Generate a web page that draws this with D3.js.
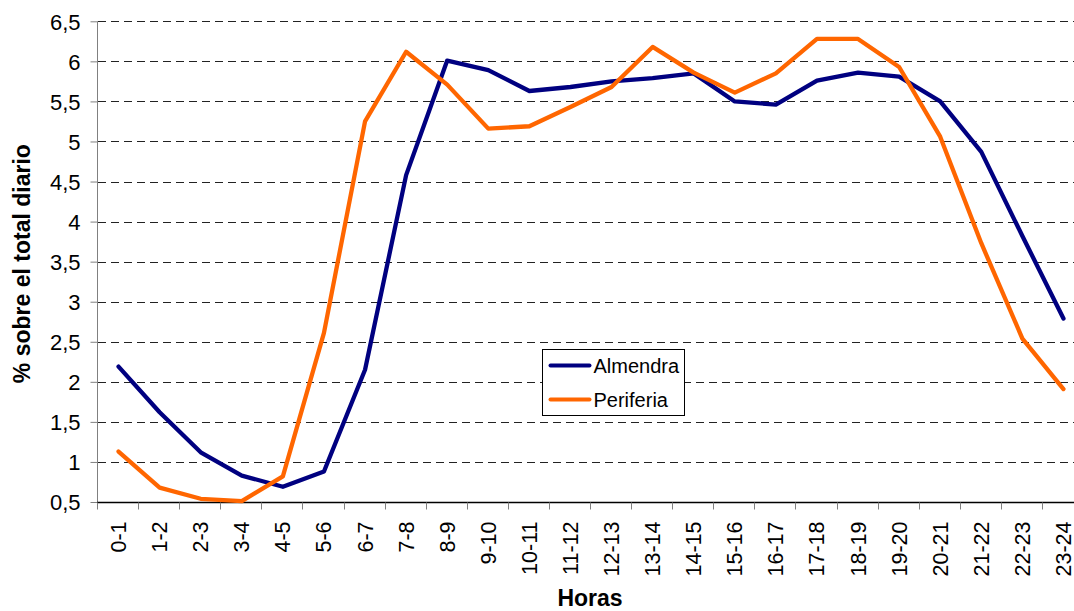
<!DOCTYPE html>
<html>
<head>
<meta charset="utf-8">
<script src="https://cdn.jsdelivr.net/npm/d3@7"></script>
<style>
  body { margin: 0; background: #fff; }
  text { font-family: "Liberation Sans", Arial, sans-serif; }
</style>
</head>
<body>
<div id="board"></div>
<script>
// hour bands on the x axis
var horas = ['0-1','1-2','2-3','3-4','4-5','5-6','6-7','7-8','8-9','9-10','10-11','11-12',
             '12-13','13-14','14-15','15-16','16-17','17-18','18-19','19-20','20-21','21-22','22-23','23-24'];

var almendra = [2.19,1.62,1.12,0.83,0.69,0.88,2.15,4.58,6.01,5.89,5.63,5.68,
                5.75,5.79,5.85,5.50,5.46,5.76,5.86,5.81,5.50,4.87,3.82,2.79];

var periferia = [1.13,0.68,0.54,0.51,0.82,2.61,5.25,6.12,5.71,5.16,5.19,5.43,
                 5.68,6.18,5.86,5.61,5.85,6.28,6.28,5.93,5.06,3.73,2.54,1.91];

var yTicks = [0.5,1,1.5,2,2.5,3,3.5,4,4.5,5,5.5,6,6.5];

var series = [
  {name:'Almendra', values:almendra, color:'#000080'},
  {name:'Periferia', values:periferia, color:'#FF6600'}
];

var W = 1074, H = 611;
var pLeft = 98, pRight = 1084, pTop = 21.3, pBottom = 502;

var svg = d3.select('#board').append('svg')
    .attr('width', W).attr('height', H);

var x = d3.scaleBand().domain(horas).range([pLeft, pRight]);
var y = d3.scaleLinear().domain([0.5, 6.5]).range([pBottom, pTop]);

var fmt = function(d){ return String(d).replace('.', ','); };

// dashed grid
svg.append('g').selectAll('line')
    .data(yTicks.slice(1))
    .enter().append('line')
    .attr('x1', pLeft).attr('x2', pRight)
    .attr('y1', function(d){ return Math.round(y(d)) + 0.5; })
    .attr('y2', function(d){ return Math.round(y(d)) + 0.5; })
    .style('stroke', '#222')
    .style('stroke-width', 1)
    .style('stroke-dasharray', '8,5');

// y axis
var yAxis = svg.append('g')
    .attr('transform', 'translate(' + (pLeft - 0.5) + ',0)')
    .call(d3.axisLeft(y).tickValues(yTicks).tickFormat(fmt).tickSize(7).tickPadding(10));
yAxis.select('.domain').style('stroke', '#808080').attr('d', 'M0,' + pTop + 'V' + pBottom);
yAxis.selectAll('.tick line').style('stroke', '#808080');
yAxis.selectAll('.tick text')
    .style('font-size', '22px').style('fill', '#000')
    .attr('dy', '0.35em');

// x axis with ticks at band edges
var xAxis = svg.append('g')
    .attr('transform', 'translate(0,' + (pBottom + 0.5) + ')');
xAxis.append('line')
    .attr('x1', pLeft - 1).attr('x2', pRight)
    .style('stroke', '#000').style('stroke-width', 1.3);
xAxis.selectAll('line.tk')
    .data(horas)
    .enter().append('line')
    .attr('class', 'tk')
    .attr('x1', function(d){ return Math.round(x(d)) - 0.5; })
    .attr('x2', function(d){ return Math.round(x(d)) - 0.5; })
    .attr('y1', 0).attr('y2', 7)
    .style('stroke', '#808080');
xAxis.selectAll('text')
    .data(horas)
    .enter().append('text')
    .attr('transform', function(d){
        return 'translate(' + (x(d) + x.bandwidth() / 2 + 7.5) + ',19) rotate(-90)';
    })
    .style('text-anchor', 'end')
    .style('font-size', '21.5px')
    .text(function(d){ return d; });

// lines
var line = d3.line()
    .x(function(d, i){ return x(horas[i]) + x.bandwidth() / 2; })
    .y(function(d){ return y(d); });

series.forEach(function(s){
    svg.append('path')
        .datum(s.values)
        .attr('d', line)
        .style('fill', 'none')
        .style('stroke', s.color)
        .style('stroke-width', 4.3)
        .style('stroke-linejoin', 'round')
        .style('stroke-linecap', 'round');
});

// axis titles
svg.append('text')
    .attr('transform', 'translate(30,' + ((pTop + pBottom) / 2 + 2) + ') rotate(-90)')
    .style('text-anchor', 'middle')
    .style('font-size', '23px').style('font-weight', 'bold')
    .text('% sobre el total diario');

svg.append('text')
    .attr('x', 590).attr('y', 606)
    .style('text-anchor', 'middle')
    .style('font-size', '23px').style('font-weight', 'bold')
    .text('Horas');

// legend
var lg = svg.append('g').attr('transform', 'translate(542.5,349.5)');
lg.append('rect')
    .attr('width', 142).attr('height', 66)
    .style('fill', '#fff').style('stroke', '#000').style('stroke-width', 1);
series.forEach(function(s, i){
    var yy = 16 + i * 34;
    lg.append('line')
        .attr('x1', 8).attr('x2', 47).attr('y1', yy).attr('y2', yy)
        .style('stroke', s.color).style('stroke-width', 4)
        .style('stroke-linecap', 'round');
    lg.append('text')
        .attr('x', 51).attr('y', yy).attr('dy', '0.35em')
        .style('font-size', '20px')
        .text(s.name);
});
</script>
</body>
</html>
